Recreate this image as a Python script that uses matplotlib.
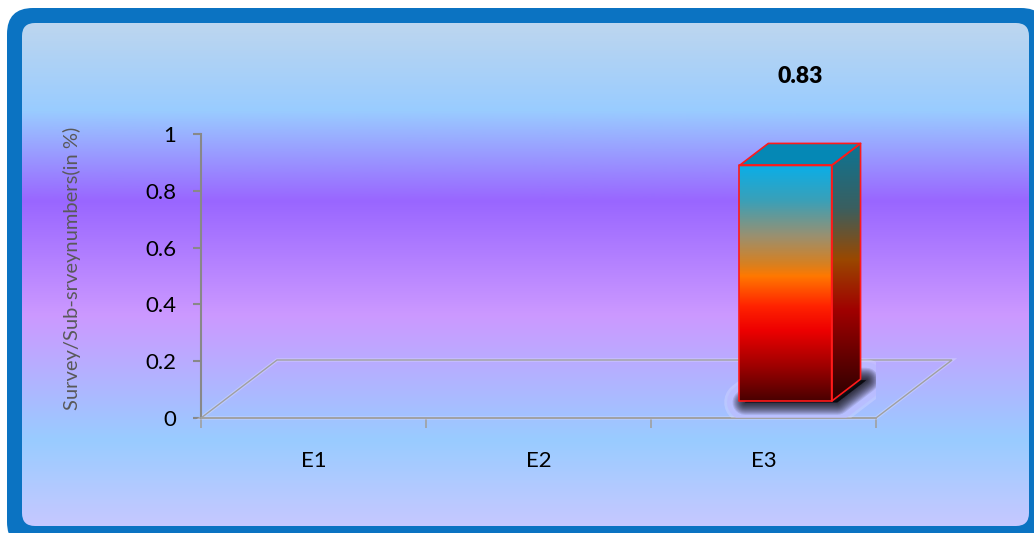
import numpy as np
import matplotlib.pyplot as plt
from matplotlib.patches import Polygon, FancyBboxPatch
from matplotlib.colors import LinearSegmentedColormap

# chart data
categories = ["E1", "E2", "E3"]
values = [0.0, 0.0, 0.83]
yticks = [0, 0.2, 0.4, 0.6, 0.8, 1.0]
ytick_labels = ["0", "0.2", "0.4", "0.6", "0.8", "1"]
ylabel = "Survey/Sub-srveynumbers(in %)"

plt.rcParams['font.family'] = ['Lato', 'DejaVu Sans']

W, H = 1034, 533
fig = plt.figure(figsize=(W / 100, H / 100), dpi=100)

# background: blue rounded frame with vertical gradient inside
bg = fig.add_axes([0, 0, 1, 1], zorder=0)
bg.set_xlim(0, W)
bg.set_ylim(H, 0)
bg.axis("off")

outer = FancyBboxPatch((7, 8), 1040, 540, boxstyle="round,pad=0,rounding_size=26",
                       fc="#0b73c2", ec="none", zorder=1)
bg.add_patch(outer)
inner = FancyBboxPatch((22, 23), 1007, 503, boxstyle="round,pad=0,rounding_size=13",
                       fc="none", ec="none", zorder=1)
bg.add_patch(inner)

bg_stops = [(0.0, "#bdd6ef"), ((110 - 23) / 502, "#99ccff"), ((200 - 23) / 502, "#9966ff"),
            ((315 - 23) / 502, "#cc99ff"), ((440 - 23) / 502, "#99ccff"), (1.0, "#c6c8ff")]
bg_cmap = LinearSegmentedColormap.from_list("bg", bg_stops)
grad = np.linspace(0, 1, 256).reshape(-1, 1)
im = bg.imshow(grad, cmap=bg_cmap, extent=(22, 1029, 526, 23), aspect="auto", zorder=2)
im.set_clip_path(inner)
bg.set_xlim(0, W)
bg.set_ylim(H, 0)

# main chart axes (front plane of the 3-D box)
ax = fig.add_axes([201 / W, 115 / H, 675 / W, 284 / H], zorder=1)
ax.patch.set_alpha(0)
ax.set_xlim(0, 3)
ax.set_ylim(0, 1)

# oblique depth offsets (data units for full depth)
DX = 76 / 225
DY = 58 / 284


def proj(x, y, d):
    return (x + d * DX, y + d * DY)


# floor
floor = [proj(0, 0, 0), proj(3, 0, 0), proj(3, 0, 1), proj(0, 0, 1)]
ax.add_patch(Polygon(floor, closed=True, fc="none", ec="#e0e4ff", lw=2.5, alpha=0.4,
                     clip_on=False, zorder=2))
ax.add_patch(Polygon(floor, closed=True, fc="none", ec="#a0a0a0", lw=1.0,
                     clip_on=False, zorder=3))

front_stops = [(0.0, "#0aaee8"), (0.15, "#3aa0b8"), (0.3, "#9a9070"), (0.42, "#d88020"),
               (0.47, "#ff7800"), (0.6, "#ff2200"), (0.7, "#ee0000"), (0.85, "#a00000"),
               (1.0, "#4a0000")]
side_stops = [(0.0, "#0c7595"), (0.25, "#3a5f60"), (0.45, "#9a4800"), (0.65, "#a00000"),
              (1.0, "#2a0000")]
front_cmap = LinearSegmentedColormap.from_list("front", front_stops)
side_cmap = LinearSegmentedColormap.from_list("side", side_stops)

bar_w = 0.41
d0, d1 = 0.29, 0.67

for i, v in enumerate(values):
    if v <= 0:
        continue
    c = i + 0.5
    x0, x1 = c - bar_w / 2, c + bar_w / 2

    front = [proj(x0, 0, d0), proj(x1, 0, d0), proj(x1, v, d0), proj(x0, v, d0)]
    side = [proj(x1, 0, d0), proj(x1, 0, d1), proj(x1, v, d1), proj(x1, v, d0)]
    top = [proj(x0, v, d0), proj(x1, v, d0), proj(x1, v, d1), proj(x0, v, d1)]
    foot = [proj(x0, 0, d0), proj(x1, 0, d0), proj(x1, 0, d1), proj(x0, 0, d1)]

    # soft shadow with pale halo under the bar
    foot_sh = [(px + 0.025, py - 0.004) for px, py in foot]
    ax.add_patch(Polygon(foot_sh, closed=True, fc="#dcdcff", ec="#dcdcff", lw=30,
                         joinstyle="round", alpha=0.35, zorder=4))
    ax.add_patch(Polygon(foot_sh, closed=True, fc="#b8b8ff", ec="#b8b8ff", lw=26,
                         joinstyle="round", alpha=0.6, zorder=4))
    for lw_ in np.linspace(18, 1, 12):
        ax.add_patch(Polygon(foot_sh, closed=True, fc="black", ec="black", lw=lw_,
                             joinstyle="round", alpha=0.1, zorder=5))

    # faces with vertical gradients
    for pts, cm in [(front, front_cmap), (side, side_cmap)]:
        poly = Polygon(pts, closed=True, fc="none", ec="none", zorder=6)
        ax.add_patch(poly)
        xs = [p[0] for p in pts]
        ys = [p[1] for p in pts]
        g = ax.imshow(grad, cmap=cm, extent=(min(xs), max(xs), min(ys), max(ys)),
                      aspect="auto", origin="upper", zorder=6)
        g.set_clip_path(poly)
    ax.add_patch(Polygon(top, closed=True, fc="#0588b5", ec="none", zorder=6))

    for pts in [front, side, top]:
        ax.add_patch(Polygon(pts, closed=True, fc="none", ec="#ff1a1a", lw=1.2,
                             joinstyle="round", zorder=7))

    tx = np.mean([p[0] for p in top])
    ty = np.mean([p[1] for p in top])
    ax.annotate(f"{v:.2f}", (tx, ty), xytext=(0, 56), textcoords="offset points",
                ha="center", va="center", fontsize=16.5, fontweight="heavy", color="black")

ax.set_xlim(0, 3)
ax.set_ylim(0, 1)

# axes styling
for s in ["top", "right"]:
    ax.spines[s].set_visible(False)
ax.spines["left"].set_color("#888888")
ax.spines["left"].set_linewidth(1.5)
ax.spines["bottom"].set_color("#a0a0a0")
ax.spines["bottom"].set_linewidth(1.2)

ax.set_yticks(yticks, ytick_labels)
ax.tick_params(axis="y", length=6, width=1.5, color="#888888", labelsize=16,
               pad=12, labelcolor="black")

ax.set_xticks([0, 1, 2, 3], ["", "", "", ""])
ax.tick_params(axis="x", which="major", length=7, width=1.2, color="#a0a0a0")
ax.set_xticks([0.5, 1.5, 2.5], categories, minor=True)
ax.tick_params(axis="x", which="minor", length=0, pad=24, labelsize=16, labelcolor="black")

fig.text(72 / W, 1 - 268 / H, ylabel, rotation=90, ha="center", va="center",
         fontsize=14.5, color="#595959")

fig.savefig("out.png", dpi=100)
